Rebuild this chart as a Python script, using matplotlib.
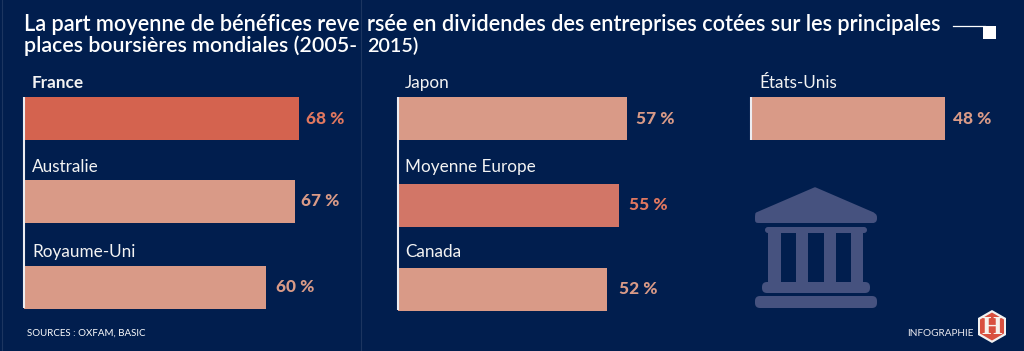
import matplotlib
matplotlib.use("Agg")
import matplotlib.pyplot as plt
from matplotlib.patches import FancyBboxPatch, Polygon, Rectangle

W, H = 1024, 351
NAVY = "#011e4e"
HI = "#d4634f"
HI2 = "#d27667"
PALE = "#d99a87"
LBL = "#e0775f"
ICON = "#46527f"

panel1 = ["France", "Australie", "Royaume-Uni"]
values1 = [68, 67, 60]
panel2 = ["Japon", "Moyenne Europe", "Canada"]
values2 = [57, 55, 52]
panel3 = ["États-Unis"]
values3 = [48]
title = ["La part moyenne de bénéfices reve", "rsée en dividendes des entreprises cotées sur les principales",
         "places boursières mondiales (2005-", "2015)"]

plt.rcParams["font.family"] = ["Lato", "DejaVu Sans"]
fig = plt.figure(figsize=(W / 100, H / 100), dpi=100, facecolor=NAVY)
bg = fig.add_axes([0, 0, 1, 1])
bg.set_xlim(0, W); bg.set_ylim(H, 0); bg.axis("off")

PT = 72 / 100  # points per pixel


def panel(x0, cats, vals, colors, lblcolors, tops, gaps, label_x, label_y, bottom, pxper):
    """Axes spanning y=70..320 px; the y scale of the axes is in pixels."""
    ax = fig.add_axes([x0 / W, 1 - 320 / H, 320 / W, 250 / H])
    ax.set_xlim(0, 320 / pxper)
    ax.set_ylim(320, 70)
    ax.axis("off")
    ax.patch.set_alpha(0)
    centers = [t + 21.5 for t in tops]
    ax.barh(centers, vals, height=43, color=colors, linewidth=0)
    ax.plot([0, 0], [97, bottom], color="#ecedf2", lw=1.5, solid_capstyle="butt",
            zorder=3, clip_on=False)
    for i, (c, v) in enumerate(zip(cats, vals)):
        ax.annotate(f"{v} %", (v, centers[i]), xytext=(gaps[i] * PT, 0), textcoords="offset points",
                    va="center", ha="left", fontsize=12.4, fontweight="black", color=lblcolors[i])
        bg.text(label_x, label_y[i], c, va="center", ha="left", fontsize=12.3, color="#f3f3f3",
                fontweight="bold" if c == "France" else "normal")


panel(24, panel1, values1, [HI, PALE, PALE], [LBL, PALE, PALE],
      [97, 180, 266], [7, 6, 10], 32, [83, 167, 252], 308, 4.04)
panel(398, panel2, values2, [PALE, HI2, PALE], [PALE, LBL, PALE],
      [97, 184, 268], [9, 10, 12], 405, [83, 167, 252], 310, 4.02)
panel(751, panel3, values3, [PALE], [PALE],
      [97], [8], 759, [83], 140, 4.04)

# Title
tkw = dict(color="white", fontweight="semibold", va="baseline", ha="left")
bg.text(24, 31, title[0], fontsize=15.7, **tkw)
bg.text(367, 31, title[1], fontsize=15.7, **tkw)
bg.text(24, 52.5, title[2], fontsize=15.4, **tkw)
bg.text(367, 52.5, title[3], fontsize=14.2, **tkw)

# frames and separators
bg.plot([360.5, 360.5], [0, H], color="#1c3560", lw=0.8, zorder=1)
bg.plot([1.5, 1.5], [0, H], color="#1c3560", lw=0.8, zorder=1)

# legend-like marker
bg.plot([953, 985], [25.7, 25.7], color="white", lw=0.9)
bg.add_patch(Rectangle((983, 26), 13, 13, color="white", lw=0))

# Footer
bg.text(27, 333.5, "SOURCES : OXFAM, BASIC", fontsize=7.0, color="white", va="center", ha="left")
bg.text(907, 334, "INFOGRAPHIE", fontsize=7.2, color="#e8e8ee", va="center", ha="left")

# H logo
bg.add_patch(Polygon([(992, 310), (1006, 318), (1006, 335), (992, 343), (978, 335), (978, 318)],
                     closed=True, fc="#f2f2f2", ec="none", zorder=2))
bg.add_patch(Polygon([(992, 312.5), (1004, 319.5), (1004, 333.5), (992, 340.5), (980, 333.5), (980, 319.5)],
                     closed=True, fc="#d9503f", ec="none", zorder=3))
bg.text(992, 327, "H", fontsize=19, fontweight="bold", family="Liberation Serif", color="#f7f2ec",
        ha="center", va="center", zorder=4)


# Bank icon
def rr(x, y, w, h, r):
    bg.add_patch(FancyBboxPatch((x + r, y + r), w - 2 * r, h - 2 * r, boxstyle=f"round,pad={r}",
                                fc=ICON, ec="none", zorder=2))


bg.add_patch(Polygon([(815, 189), (873, 214), (873, 221), (757, 221), (757, 214)], closed=True,
                     fc=ICON, ec=ICON, lw=2.5, joinstyle="round", zorder=2))
rr(755, 213, 122, 10, 4.5)
rr(765, 227, 102, 6, 3)
for a, b in [(768, 781), (796, 808), (824, 836), (851, 863)]:
    bg.add_patch(Rectangle((a, 230), b - a, 56, fc=ICON, ec="none", zorder=2))
rr(762, 282, 108, 11, 5)
rr(755, 296, 122, 12, 5)

fig.savefig("out.png", dpi=100, facecolor=NAVY)
